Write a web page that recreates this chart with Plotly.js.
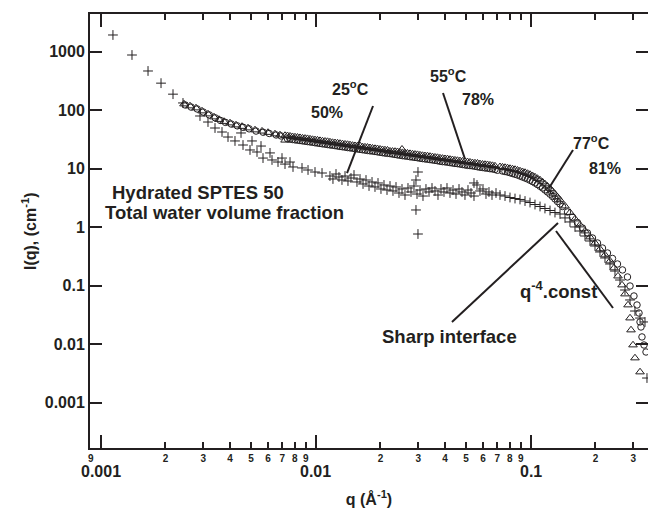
<!DOCTYPE html>
<html><head><meta charset="utf-8">
<script src="https://cdn.plot.ly/plotly-3.0.1.min.js"></script>
<style>html,body{margin:0;padding:0;background:#fff;overflow:hidden}#chart{width:648px;height:510px}</style>
</head><body><div id="chart"></div>
<script>
// ---- data: 25 C, 50 % (crosses) ----
const q25 = [0.000891,0.00114,0.001398,0.00166,0.001908,0.002169,0.002414,0.002896,0.003155,0.003401,0.003666,0.003909,0.004213,0.004494,0.004591,0.004948,0.005055,0.005333,0.005567,0.005687,0.00613,0.006263,0.006678,0.00697,0.007198,0.007595,0.007842,0.008636,0.00921,0.009925,0.0107,
 0.01165,0.01203,0.01243,0.01283,0.01325,0.01369,0.01413,0.01459,0.01507,0.01556,0.01607,0.0166,0.01714,0.0177,0.01828,0.01887,0.01949,0.02012,0.02078,0.02146,0.02216,0.02288,0.02363,0.0244,0.0252,0.02602,0.02687,0.02775,0.02865,0.02959,0.03056,0.03155,0.03258,0.03365,0.03475,0.03588,0.03705,0.03826,0.03951,0.0408,0.04213,0.04351,0.04493,0.0464,0.04791,0.04947,0.05109,0.05276,0.05448,0.05626,0.05809,0.05999,0.06195,0.06397,0.06607,0.06896,
 0.02927,0.0299,0.02927,0.0299,0.05448,
 0.07197,0.07595,0.08011,0.08453,0.08917,0.09408,0.09925,0.1047,0.1105,0.1165,0.123,0.1297,
 0.1369,0.1444,0.1523,0.1607,0.1695,0.1789,0.1887,0.1991,0.21,0.2216,0.2338,0.2466,0.2602,0.2745,0.2897,0.3055,0.3225,0.3401,0.3474];
const i25 = [4400,1930,878,468,290,188,133,79.6,62.8,49.6,42.4,34.8,29.8,40.8,25.4,20.9,29.8,19.3,24.4,15.2,18.6,14.1,13.0,15.2,12.0,13.0,10.7,10.3,9.5,8.78,8.44,
 7.50,6.67,8.12,7.21,6.41,7.50,6.16,6.93,7.80,5.93,6.67,5.48,6.41,5.06,5.93,4.87,5.70,4.50,5.27,4.32,5.06,4.16,4.87,3.84,4.50,3.55,4.68,4.00,5.06,3.69,4.32,3.41,4.50,4.00,4.68,4.16,3.55,4.50,4.00,4.68,3.84,4.32,3.69,4.50,4.00,3.55,4.32,3.84,3.41,5.27,4.16,4.50,3.69,4.00,3.55,3.84,
 6.41,8.78,1.97,0.765,5.70,
 3.55,3.41,3.22,3.09,2.98,2.80,2.64,2.44,2.26,2.09,1.93,1.78,
 1.68,1.44,1.23,1.01,0.861,0.707,0.581,0.477,0.377,0.298,0.235,0.178,0.125,0.0844,0.0570,0.0369,0.0280,0.0240,0.00264];

// ---- data: 55 C, 78 % (triangles) ----
const q55 = [0.00244,0.002602,0.002775,0.00296,0.003156,0.003365,0.00355,0.003745,0.003995,0.004259,0.004542,0.004843,0.00522,0.005627,0.006,0.006465,0.006823,
 0.007198,0.007595,0.008011,0.008452,0.008917,0.009408,0.009925,0.01047,0.01105,0.01165,0.0123,0.01297,0.01369,0.01444,0.01523,0.01607,0.01695,0.01789,0.01887,0.01991,0.021,0.02216,0.02338,0.02466,0.02602,0.02745,0.02896,0.03055,0.03223,0.03401,0.03588,0.03785,0.03993,0.04213,0.04444,0.04689,0.04947,0.05219,0.05506,0.05809,0.06128,0.06465,0.06821,
 0.007393,0.0078,0.008228,0.008681,0.009159,0.009663,0.01019,0.01075,0.01135,0.01197,0.01263,0.01332,0.01406,0.01483,0.01564,0.01651,0.01741,0.01837,0.01938,0.02045,0.02157,0.02276,0.02401,0.02533,0.02672,0.02819,0.02974,0.03138,0.0331,0.03493,0.03685,0.03888,0.04101,0.04327,0.04564,0.04816,0.05081,0.0536,0.05655,0.05966,0.06294,0.0664,
 0.0072,0.0252,
 0.07197,0.07595,0.08011,0.08453,0.08917,0.09408,0.09925,0.1047,0.1105,0.1165,0.123,0.1297,0.1369,0.1444,0.1523,0.1607,0.1695,0.1789,0.1887,0.1991,0.21,0.2216,0.2338,0.244,0.2547,0.2659,0.2745,0.2836,0.2897,0.2928,0.2991,0.3055,0.3225,
 0.07392,0.078,0.08228,0.08682,0.09159,0.09663,0.1019,0.1075,0.1135,0.1197,0.1263,0.1332];
const i55 = [127.6,118,109,96.9,86.1,76.5,69.3,64.1,60.4,55.8,52.7,49.6,45.9,43.8,41.6,39.2,37.7,
 36.9,35.9,34.8,33.9,33.0,32.1,31.1,30.2,29.4,28.6,27.7,27.0,26.2,25.5,24.7,24.6,23.4,22.8,22.1,21.5,20.9,19.9,19.7,19.1,18.6,18.1,17.6,17.1,16.6,16.2,15.7,15.2,14.8,14.4,14.0,13.6,13.2,12.9,12.5,12.1,11.8,11.5,11.1,
 36.5,35.2,34.4,33.3,32.6,31.5,30.8,29.7,29.1,28.0,27.4,26.5,25.9,25.0,24.5,23.6,23.2,22.4,21.9,21.1,20.7,19.8,19.5,18.8,18.4,17.8,17.4,16.8,16.5,15.9,15.5,15.0,14.7,14.2,13.8,13.4,13.1,12.6,12.4,11.9,11.7,11.3,
 30.7,21.5,
 10.78,10.48,10.08,9.69,9.13,8.61,7.96,7.21,6.41,5.48,4.59,3.69,2.92,2.30,1.78,1.38,1.09,0.861,0.680,0.537,0.424,0.335,0.264,0.201,0.146,0.1028,0.0721,0.0468,0.0280,0.0175,0.00969,0.00581,0.00335,
 10.63,10.28,9.88,9.41,8.87,8.28,7.58,6.80,5.93,5.02,4.12,3.28];

// ---- data: 77 C, 81 % (circles) ----
const q77 = [0.00247,0.002635,0.00281,0.003,0.0032,0.00341,0.0036,0.0038,0.00405,0.00432,0.0046,0.0049,0.00528,0.0057,0.00608,0.00655,0.0069,
 0.007392,0.0078,0.008227,0.00868,0.009158,0.009662,0.01019,0.01075,0.01135,0.01196,0.01263,0.01332,0.01406,0.01483,0.01564,0.0165,0.01741,0.01837,0.01938,0.02045,0.02157,0.02276,0.02401,0.02533,0.02672,0.02819,0.02974,0.03137,0.0331,0.03493,0.03685,0.03887,0.04101,0.04327,0.04564,0.04816,0.0508,0.0536,0.05655,0.05966,0.06293,0.0664,0.07005,
 0.007595,0.008011,0.008452,0.008917,0.009408,0.009925,0.01047,0.01105,0.01165,0.0123,0.01297,0.01369,0.01444,0.01523,0.01607,0.01695,0.01789,0.01887,0.01991,0.021,0.02216,0.02338,0.02466,0.02602,0.02745,0.02896,0.03055,0.03223,0.03401,0.03588,0.03785,0.03993,0.04213,0.04444,0.04689,0.04947,0.05219,0.05506,0.05809,0.06128,0.06465,0.06821,
 0.07391,0.078,0.08227,0.08681,0.09158,0.09662,0.1019,0.1075,0.1135,0.1196,0.1263,0.1332,0.1406,0.1483,0.1564,0.165,0.1741,0.1837,0.1938,0.2045,0.2157,0.2276,0.2401,0.2533,0.2672,0.2819,0.2897,0.3022,0.3122,0.319,0.3225,0.3258,0.3293,0.3365,0.3438,
 0.07595,0.08011,0.08453,0.08917,0.09408,0.09925,0.1047,0.1105,0.1165,0.123,0.1297,0.1369,
 0.3401];
const i77 = [123,113,105,93,83,74,67,62,58,54,51,48,44,42,40,37.7,36.3,
 32.5,31.6,30.7,29.9,29.1,28.3,27.4,26.6,25.9,25.2,24.4,23.7,23.0,22.4,21.7,21.1,20.5,20.0,19.4,18.8,18.3,17.8,17.2,16.7,16.3,15.8,15.4,14.9,14.5,14.1,13.7,13.2,12.9,12.5,12.2,11.8,11.4,11.2,10.8,10.5,10.2,9.9,9.4,
 32.1,31.1,30.3,29.5,28.7,27.8,27.0,26.3,25.5,24.8,24.0,23.4,22.7,22.0,21.4,20.8,20.2,19.7,19.1,18.5,18.1,17.5,17.0,16.5,16.0,15.6,15.1,14.7,14.3,13.9,13.4,13.1,12.7,12.3,12.0,11.6,11.3,11.0,10.6,10.3,10.0,9.7,
 9.13,8.78,8.28,7.80,7.21,6.67,6.04,5.37,4.68,4.00,3.35,2.75,2.26,1.82,1.49,1.20,0.969,0.796,0.654,0.537,0.441,0.362,0.292,0.235,0.186,0.141,0.0988,0.0667,0.0468,0.0341,0.0240,0.0197,0.0133,0.00969,0.00736,
 8.95,8.53,8.04,7.50,6.94,6.35,5.70,5.01,4.33,3.67,3.04,2.50,
 0.000168];

// ---- ticks ----
const xMinorVals = [0.0009,0.002,0.003,0.004,0.005,0.006,0.007,0.008,0.009,0.02,0.03,0.04,0.05,0.06,0.07,0.08,0.09,0.2,0.3];
const xMinorText = ['9','2','3','4','5','6','7','8','9','2','3','4','5','6','7','8','9','2','3'];
const xMajorVals = [0.001,0.01,0.1];
const xMajorText = ['0.001','0.01','0.1'];
const yTickVals = [0.001,0.01,0.1,1,10,100,1000];
const yTickText = ['0.001','0.01','0.1','1','10','100','1000'];

const INK = '#231f20';
const F = '"Liberation Sans", Arial, Helvetica, sans-serif';
const XR = [-3.0498, -0.4544];
const YR = [-3.7744, 3.6444];

const traces = [
  {x:q25, y:i25, type:'scatter', mode:'markers', name:'25C', cliponaxis:false,
   marker:{symbol:'cross-thin', size:7, color:INK, line:{width:1, color:INK}}},
  {x:q55, y:i55, type:'scatter', mode:'markers', name:'55C',
   marker:{symbol:'triangle-up-open', size:7.5, color:INK, line:{width:1, color:INK}}},
  {x:q77, y:i77, type:'scatter', mode:'markers', name:'77C', cliponaxis:false,
   marker:{symbol:'circle-open', size:6.5, color:INK, line:{width:1, color:INK}}}
];

const bold = (s)=>({family:F, size:s, color:INK, weight:'bold'});
function ann(text, x, y, size, xanchor){
  return {text, x, y, xref:'paper', yref:'paper', showarrow:false, font:bold(size), xanchor:xanchor||'center', yanchor:'middle'};
}
function seg(x0,y0,x1,y1){
  return {type:'line', xref:'paper', yref:'paper', x0, y0, x1, y1, line:{color:INK, width:2}};
}
const majorLabels = xMajorVals.map((v,k)=>({text:xMajorText[k], x:Math.log10(v), xref:'x', y:-0.053, yref:'paper',
  showarrow:false, font:bold(16), xanchor:'center', yanchor:'middle'}));

const layout = {
  width:648, height:510, autosize:false,
  margin:{l:90, r:0, t:14, b:62},
  paper_bgcolor:'#fff', plot_bgcolor:'#fff',
  showlegend:false,
  font:{family:F, color:INK},
  xaxis:{type:'log', range:XR, tickmode:'array', tickvals:xMinorVals, ticktext:xMinorText,
    ticks:'inside', ticklen:6, tickwidth:2, tickcolor:INK,
    showline:true, linewidth:2, linecolor:INK, mirror:'ticks',
    showgrid:false, zeroline:false, tickfont:bold(10),
    minor:{tickmode:'array', tickvals:xMajorVals, ticks:'inside', ticklen:13, tickwidth:2, tickcolor:INK, showgrid:false},
    title:{text:'q (Å<sup>-1</sup>)', font:bold(16), standoff:31}},
  yaxis:{type:'log', range:YR, tickmode:'array', tickvals:yTickVals, ticktext:yTickText,
    ticks:'inside', ticklen:12, tickwidth:2, tickcolor:INK,
    showline:true, linewidth:2, linecolor:INK, mirror:'ticks',
    showgrid:false, zeroline:false, tickfont:bold(16)},
  annotations:[
    ...majorLabels,
    {text:'I(q), (cm<sup>-1</sup>)', x:-0.1093, y:0.5, xref:'paper', yref:'paper', textangle:-90,
     showarrow:false, font:bold(16), xanchor:'center', yanchor:'middle'},
    ann('25<sup>o</sup>C', 0.466, 0.8295, 16),
    ann('50%', 0.4247, 0.7719, 16),
    ann('55<sup>o</sup>C', 0.6416, 0.8594, 16),
    ann('78%', 0.6953, 0.8041, 16),
    ann('77<sup>o</sup>C', 0.8979, 0.7051, 16),
    ann('81%', 0.9229, 0.6429, 16),
    ann('Hydrated SPTES 50', 0.0358, 0.5876, 18.5, 'left'),
    ann('Total water volume fraction', 0.0233, 0.5415, 18.5, 'left'),
    ann('Sharp interface', 0.5197, 0.2558, 18.5, 'left'),
    ann('q<sup>-4</sup>.const', 0.767, 0.364, 18.5, 'left')
  ],
  shapes:[
    seg(0.5072,0.788,0.4606,0.6336),
    seg(0.6326,0.818,0.672,0.6659),
    seg(0.8656,0.6866,0.8226,0.5991),
    seg(0.6487,0.2903,0.8387,0.5184),
    seg(0.8351,0.5,0.9373,0.3226)
  ]
};

Plotly.newPlot('chart', traces, layout, {displayModeBar:false, staticPlot:true});
</script></body></html>
